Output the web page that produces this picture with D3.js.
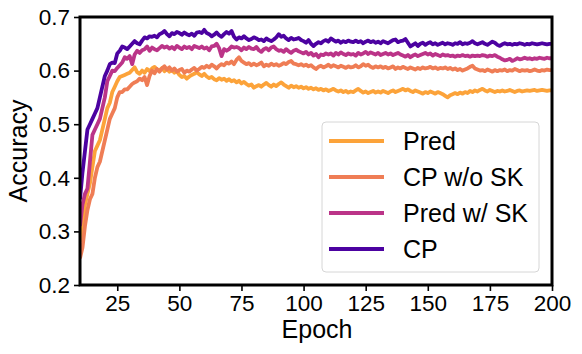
<!DOCTYPE html>
<html>
<head>
<meta charset="utf-8">
<script src="https://cdn.jsdelivr.net/npm/d3@7"></script>
<style>
  html, body { margin: 0; padding: 0; background: #fff; }
  svg { display: block; }
  text { font-family: "Liberation Sans", Arial, Helvetica, sans-serif; fill: #000; }
</style>
</head>
<body>
<svg id="chart" width="582" height="354"></svg>
<script>
// ---------------- DATA ----------------
const startEpoch = 10;
const seriesNames = ["Pred", "CP w/o SK", "Pred w/ SK", "CP"];
const seriesColors = ["#fca33a", "#ef7d55", "#bb3488", "#4c02a1"];
const xTicks = [25, 50, 75, 100, 125, 150, 175, 200];
const yTicks = [0.2, 0.3, 0.4, 0.5, 0.6, 0.7];

const predValues = [
  0.28, 0.31, 0.35, 0.37, 0.39, 0.42, 0.45, 0.46, 0.47, 0.49,
  0.51, 0.53, 0.54, 0.56, 0.57, 0.58, 0.588, 0.590, 0.592, 0.594,
  0.596, 0.601, 0.606, 0.597, 0.594, 0.600, 0.596, 0.603, 0.599, 0.604,
  0.607, 0.602, 0.600, 0.605, 0.599, 0.603, 0.598, 0.601, 0.596, 0.599,
  0.592, 0.588, 0.590, 0.585, 0.589, 0.592, 0.594, 0.597, 0.593, 0.590,
  0.594, 0.589, 0.586, 0.588, 0.584, 0.582, 0.586, 0.583, 0.585, 0.581,
  0.584, 0.580, 0.582, 0.578, 0.581, 0.576, 0.579, 0.575, 0.572, 0.574,
  0.568, 0.571, 0.573, 0.570, 0.574, 0.577, 0.573, 0.570, 0.574, 0.571,
  0.575, 0.578, 0.574, 0.571, 0.568, 0.572, 0.569, 0.571, 0.568, 0.570,
  0.567, 0.569, 0.566, 0.568, 0.565, 0.567, 0.564, 0.566, 0.563, 0.565,
  0.562, 0.564, 0.566, 0.563, 0.561, 0.563, 0.560, 0.562, 0.559, 0.561,
  0.560, 0.563, 0.566, 0.562, 0.559, 0.561, 0.558, 0.560, 0.562, 0.559,
  0.561, 0.559, 0.562, 0.560, 0.558, 0.561, 0.563, 0.560, 0.562, 0.564,
  0.566, 0.563, 0.565, 0.562, 0.560, 0.563, 0.561, 0.559, 0.557, 0.560,
  0.558, 0.561, 0.559, 0.557, 0.560, 0.558, 0.556, 0.553, 0.550, 0.554,
  0.556, 0.558, 0.556, 0.559, 0.557, 0.560, 0.558, 0.562, 0.560, 0.563,
  0.561, 0.564, 0.566, 0.563, 0.561, 0.564, 0.562, 0.560, 0.562, 0.561,
  0.563, 0.561, 0.562, 0.564, 0.562, 0.560, 0.562, 0.563, 0.561, 0.562,
  0.563, 0.562, 0.563, 0.564, 0.562, 0.563, 0.564, 0.563, 0.562, 0.563, 0.563
];

const cpNoSkValues = [
  0.25, 0.27, 0.31, 0.34, 0.36, 0.37, 0.40, 0.42, 0.43, 0.45,
  0.47, 0.49, 0.51, 0.52, 0.53, 0.55, 0.56, 0.56, 0.565, 0.565,
  0.570, 0.575, 0.578, 0.580, 0.585, 0.582, 0.588, 0.573, 0.590, 0.600,
  0.595, 0.603, 0.598, 0.604, 0.608, 0.602, 0.606, 0.600, 0.604, 0.598,
  0.601, 0.603, 0.596, 0.600, 0.598, 0.602, 0.605, 0.600, 0.603, 0.607,
  0.605, 0.609, 0.606, 0.611, 0.608, 0.604, 0.609, 0.612, 0.610, 0.615,
  0.613, 0.617, 0.612, 0.620, 0.625, 0.618, 0.615, 0.612, 0.614, 0.610,
  0.613, 0.610, 0.612, 0.615, 0.608, 0.611, 0.609, 0.613, 0.610, 0.612,
  0.609, 0.611, 0.614, 0.612, 0.616, 0.618, 0.613, 0.612, 0.610, 0.612,
  0.609, 0.611, 0.608, 0.610, 0.606, 0.603, 0.607, 0.609, 0.606, 0.608,
  0.611, 0.607, 0.610, 0.608, 0.606, 0.609, 0.607, 0.605, 0.608, 0.606,
  0.607, 0.610, 0.606, 0.608, 0.612, 0.609, 0.611, 0.607, 0.605, 0.608,
  0.606, 0.608, 0.605, 0.607, 0.604, 0.606, 0.608, 0.603, 0.606, 0.604,
  0.607, 0.605, 0.603, 0.606, 0.604, 0.602, 0.605, 0.603, 0.606, 0.604,
  0.605, 0.607, 0.604, 0.606, 0.603, 0.605, 0.604, 0.606, 0.603, 0.605,
  0.602, 0.604, 0.601, 0.603, 0.600, 0.602, 0.604, 0.607, 0.609, 0.604,
  0.602, 0.600, 0.601, 0.599, 0.602, 0.600, 0.598, 0.601, 0.599, 0.601,
  0.600, 0.602, 0.599, 0.601, 0.600, 0.603, 0.601, 0.599, 0.601, 0.600,
  0.601, 0.599, 0.600, 0.602, 0.600, 0.599, 0.601, 0.600, 0.602, 0.601, 0.601
];

const predSkValues = [
  0.31, 0.35, 0.37, 0.38, 0.43, 0.48, 0.49, 0.50, 0.51, 0.53,
  0.55, 0.58, 0.59, 0.60, 0.599, 0.605, 0.610, 0.615, 0.625, 0.622,
  0.627, 0.612, 0.630, 0.637, 0.633, 0.638, 0.640, 0.645, 0.637, 0.643,
  0.640, 0.638, 0.642, 0.646, 0.643, 0.645, 0.641, 0.644, 0.640, 0.646,
  0.643, 0.640, 0.645, 0.642, 0.644, 0.640, 0.646, 0.644, 0.642, 0.645,
  0.641, 0.643, 0.638, 0.645, 0.646, 0.650, 0.642, 0.627, 0.640, 0.637,
  0.640, 0.645, 0.643, 0.644, 0.642, 0.638, 0.643, 0.640, 0.644, 0.641,
  0.640, 0.644, 0.638, 0.635, 0.640, 0.642, 0.638, 0.643, 0.645, 0.640,
  0.637, 0.638, 0.635, 0.640, 0.636, 0.633, 0.637, 0.639, 0.636, 0.634,
  0.632, 0.635, 0.630, 0.633, 0.628, 0.631, 0.625, 0.630, 0.629, 0.632,
  0.630, 0.632, 0.628, 0.633, 0.630, 0.634, 0.631, 0.629, 0.632, 0.630,
  0.631, 0.628, 0.633, 0.630, 0.632, 0.635, 0.631, 0.634, 0.632, 0.630,
  0.633, 0.629, 0.631, 0.633, 0.630, 0.632, 0.629, 0.631, 0.633, 0.630,
  0.628, 0.626, 0.629, 0.625, 0.628, 0.630, 0.627, 0.629, 0.631, 0.633,
  0.630, 0.632, 0.628, 0.631, 0.629, 0.627, 0.630, 0.628, 0.629, 0.627,
  0.628, 0.626, 0.628, 0.627, 0.629, 0.627, 0.628, 0.626, 0.628, 0.627,
  0.628, 0.627, 0.629, 0.628, 0.626, 0.628, 0.627, 0.629, 0.626, 0.624,
  0.621, 0.619, 0.620, 0.622, 0.618, 0.620, 0.623, 0.621, 0.622, 0.624,
  0.622, 0.623, 0.621, 0.623, 0.622, 0.624, 0.623, 0.622, 0.624, 0.623, 0.623
];

const cpValues = [
  0.36, 0.41, 0.45, 0.49, 0.50, 0.51, 0.52, 0.53, 0.55, 0.57,
  0.59, 0.60, 0.612, 0.615, 0.614, 0.632, 0.637, 0.645, 0.643, 0.640,
  0.645, 0.650, 0.655, 0.651, 0.649, 0.656, 0.662, 0.660, 0.664, 0.663,
  0.665, 0.662, 0.668, 0.670, 0.674, 0.668, 0.664, 0.670, 0.668, 0.672,
  0.670, 0.667, 0.671, 0.668, 0.666, 0.669, 0.665, 0.671, 0.672, 0.670,
  0.676, 0.670, 0.668, 0.664, 0.667, 0.671, 0.666, 0.663, 0.668, 0.672,
  0.669, 0.674, 0.663, 0.658, 0.662, 0.660, 0.664, 0.660, 0.657, 0.659,
  0.662, 0.660, 0.657, 0.658, 0.655, 0.660, 0.657, 0.655, 0.658, 0.662,
  0.668, 0.663, 0.665, 0.660, 0.657, 0.661, 0.658, 0.659, 0.661, 0.657,
  0.655, 0.652, 0.657, 0.650, 0.646, 0.650, 0.653, 0.651, 0.655, 0.657,
  0.654, 0.660, 0.657, 0.654, 0.656, 0.652, 0.655, 0.653, 0.656, 0.654,
  0.653, 0.656, 0.653, 0.655, 0.651, 0.654, 0.656, 0.653, 0.655, 0.652,
  0.654, 0.651, 0.655, 0.653, 0.651, 0.654, 0.657, 0.658, 0.653, 0.655,
  0.656, 0.659, 0.652, 0.645, 0.648, 0.651, 0.646, 0.650, 0.652, 0.648,
  0.651, 0.653, 0.649, 0.651, 0.648, 0.650, 0.652, 0.649, 0.651, 0.650,
  0.648, 0.651, 0.650, 0.653, 0.649, 0.651, 0.650, 0.652, 0.655, 0.651,
  0.649, 0.651, 0.653, 0.650, 0.648, 0.651, 0.654, 0.652, 0.648, 0.646,
  0.649, 0.651, 0.649, 0.650, 0.648, 0.650, 0.649, 0.651, 0.650, 0.648,
  0.650, 0.649, 0.651, 0.650, 0.649, 0.650, 0.651, 0.650, 0.649, 0.650, 0.650
];

const seriesValues = [predValues, cpNoSkValues, predSkValues, cpValues];

// ---------------- LAYOUT ----------------
const svg = d3.select("#chart");
const plot = { left: 80, top: 17, right: 552, bottom: 285 };

const x = d3.scaleLinear().domain([10, 200]).range([plot.left, plot.right]);
const y = d3.scaleLinear().domain([0.2, 0.7]).range([plot.bottom, plot.top]);

svg.append("defs").append("clipPath").attr("id", "clip")
  .append("rect")
  .attr("x", plot.left).attr("y", plot.top)
  .attr("width", plot.right - plot.left).attr("height", plot.bottom - plot.top);

const line = d3.line()
  .x((d, i) => x(startEpoch + i))
  .y(d => y(d));

const lines = svg.append("g").attr("clip-path", "url(#clip)");
seriesValues.forEach((vals, k) => {
  lines.append("path")
    .datum(vals)
    .attr("d", line)
    .attr("fill", "none")
    .attr("stroke", seriesColors[k])
    .attr("stroke-width", 3.8)
    .attr("stroke-linejoin", "round")
    .attr("stroke-linecap", "butt");
});

// Axes
const xAxis = svg.append("g")
  .attr("transform", `translate(0,${plot.bottom})`)
  .call(d3.axisBottom(x).tickValues(xTicks).tickFormat(d3.format("d")).tickSize(6).tickPadding(4));
const yAxis = svg.append("g")
  .attr("transform", `translate(${plot.left},0)`)
  .call(d3.axisLeft(y).tickValues(yTicks).tickFormat(d3.format(".1f")).tickSize(6).tickPadding(4));

[xAxis, yAxis].forEach(g => {
  g.select(".domain").remove();
  g.selectAll(".tick line").attr("stroke", "#000").attr("stroke-width", 1.6);
  g.selectAll(".tick text")
    .attr("fill", "#000")
    .style("font-size", "22.5px")
    .style("font-family", "'Liberation Sans', Arial, sans-serif");
});

// Frame (spines)
svg.append("rect")
  .attr("x", plot.left).attr("y", plot.top)
  .attr("width", plot.right - plot.left).attr("height", plot.bottom - plot.top)
  .attr("fill", "none").attr("stroke", "#000").attr("stroke-width", 3);

// Axis labels
svg.append("text")
  .attr("x", (plot.left + plot.right) / 2 + 1)
  .attr("y", 338)
  .attr("text-anchor", "middle")
  .style("font-size", "25px")
  .text("Epoch");

svg.append("text")
  .attr("transform", `translate(27,${(plot.top + plot.bottom) / 2}) rotate(-90)`)
  .attr("text-anchor", "middle")
  .style("font-size", "25px")
  .text("Accuracy");

// Legend
const legend = svg.append("g");
legend.append("rect")
  .attr("x", 322).attr("y", 122)
  .attr("width", 217).attr("height", 150)
  .attr("rx", 4).attr("ry", 4)
  .attr("fill", "#fff").attr("fill-opacity", 0.8)
  .attr("stroke", "#d6d6d6").attr("stroke-width", 1);

seriesNames.forEach((name, k) => {
  const yy = 141 + k * 36;
  legend.append("line")
    .attr("x1", 329).attr("x2", 384)
    .attr("y1", yy).attr("y2", yy)
    .attr("stroke", seriesColors[k])
    .attr("stroke-width", 4);
  legend.append("text")
    .attr("x", 403).attr("y", yy)
    .attr("dy", "0.35em")
    .style("font-size", "25px")
    .text(name);
});
</script>
</body>
</html>
